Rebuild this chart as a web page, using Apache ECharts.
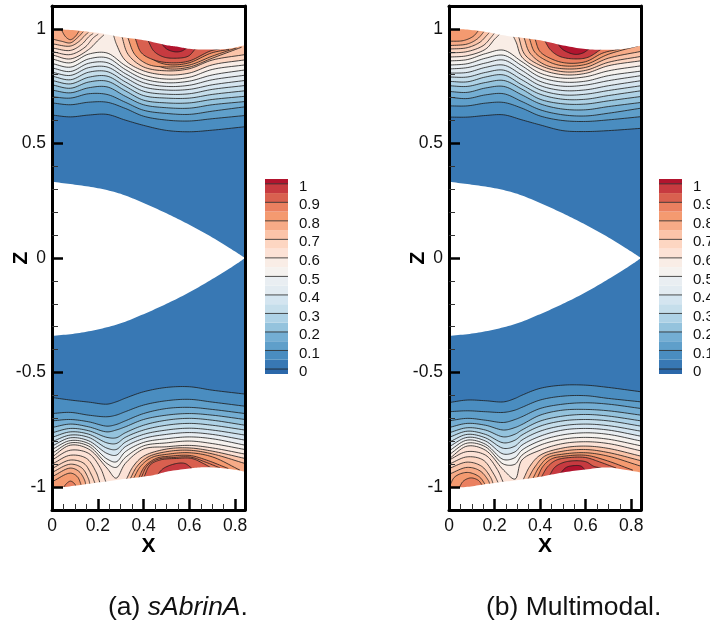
<!DOCTYPE html>
<html><head><meta charset="utf-8">
<style>html,body{margin:0;padding:0;background:#fff}#c{width:710px;height:628px}</style>
<script src="https://cdn.jsdelivr.net/npm/echarts@6/dist/echarts.min.js"></script>
</head><body><div id="c"></div>
<script>
// tick values
const xTicks=[0,.2,.4,.6,.8];
const xMinor=[.05,.1,.15,.25,.3,.35,.45,.5,.55,.65,.7,.75];
const zTicks=[-1,-.5,0,.5,1];
const zMinor=[-.9,-.8,-.7,-.6,-.4,-.3,-.2,-.1,.1,.2,.3,.4,.6,.7,.8,.9];
const barTicks=[0,.1,.2,.3,.4,.5,.6,.7,.8,.9,1];
const XMAX=.843,ZMAX=1.1;
// colour of the band starting at level index*0.05
const bandColors=['#3878b4','#4a8dc0','#5f9fca','#74aed3','#94c3dd','#aed2e6','#c5deeb','#d4e5f0','#e2ebf1','#e9eef2','#f5f2ef','#f9ede6','#fce2d6','#fdd6c2','#fbc4a9','#f7ab87','#f49a70','#ea8060','#d9604f','#c73a40','#b2142e'];
const belowZero='#2b68aa';
// level carried by each of the long contour lines, lowest first
const topLevels=[.05,.1,.15,.2,.25,.3,.35,.4,.45,.5,.55];
const botLevels=[.05,.1,.15,.2,.25,.3,.35,.45,.5,.55,.6];

// (a) sAbrinA — top half
const aTopX=[0,.08,.16,.24,.32,.4,.5,.6,.7,.843];
const aTopLow=[
[.624,.616,.624,.627,.602,.579,.557,.551,.558,.573],
[.677,.669,.680,.680,.653,.619,.602,.598,.608,.622],
[.704,.698,.717,.714,.680,.645,.631,.627,.641,.660],
[.733,.721,.743,.747,.706,.669,.656,.654,.669,.683],
[.756,.741,.768,.772,.730,.689,.677,.677,.692,.706],
[.775,.760,.789,.794,.750,.709,.698,.698,.714,.730],
[.794,.778,.811,.814,.769,.728,.715,.717,.736,.753],
[.811,.797,.831,.834,.788,.747,.733,.736,.756,.775],
[.830,.814,.850,.853,.805,.765,.749,.754,.778,.798],
[.849,.833,.869,.874,.823,.782,.765,.772,.799,.821],
[.869,.852,.890,.895,.840,.799,.781,.789,.823,.843]];
const aTopArcs=[
[.65,[[.268,.975],[.282,.932],[.320,.863],[.400,.817],[.500,.799],[.599,.807],[.700,.843],[.843,.865]]],
[.7,[[.304,.971],[.333,.888],[.400,.834],[.500,.817],[.599,.826],[.700,.864],[.843,.888]]],
[.75,[[.345,.964],[.372,.891],[.435,.852],[.508,.826],[.599,.833],[.700,.872],[.828,.920]]],
[.8,[[.329,.968],[.362,.888],[.420,.845],[.500,.834],[.599,.842],[.700,.881],[.806,.917]]],
[.85,[[.384,.959],[.410,.895],[.457,.858],[.518,.843],[.599,.852],[.697,.895],[.774,.911]]],
[.9,[[.362,.962],[.391,.895],[.450,.863],[.522,.852],[.599,.860],[.690,.903],[.733,.913]]],
[.95,[[.420,.948],[.445,.903],[.486,.878],[.537,.872],[.595,.881],[.627,.914]]],
[1,[[.474,.942],[.500,.913],[.537,.900],[.566,.903],[.588,.916]]],
[.6,[[0,.887],[.08,.869],[.16,.910],[.202,.951],[.227,.974]]],
[.64,[[0,.901],[.08,.888],[.144,.920],[.18,.961],[.202,.977]]],
[.68,[[0,.917],[.08,.906],[.129,.932],[.163,.968],[.18,.980]]],
[.72,[[0,.935],[.08,.925],[.119,.946],[.144,.972],[.159,.984]]],
[.76,[[0,.956],[.042,.946],[.08,.939],[.111,.961],[.137,.988]]],
[.82,[[.04,.998],[.06,.965],[.08,.953],[.1,.965],[.118,.99]]]];
const aTopSurface=[[0,1],[.1,.994],[.2,.983],[.3,.965],[.4,.951],[.5,.929],[.55,.922],[.6,.913],[.7,.910],[.77,.913],[.843,.929]];

// (a) sAbrinA — bottom half
const aBotX=[0,.08,.16,.24,.28,.32,.4,.5,.6,.7,.843];
const aBotLow=[
[-.609,-.620,-.629,-.638,-.628,-.612,-.584,-.565,-.562,-.577,-.594],
[-.679,-.674,-.686,-.693,-.686,-.671,-.642,-.623,-.617,-.629,-.647],
[-.711,-.705,-.715,-.734,-.727,-.711,-.679,-.657,-.652,-.661,-.679],
[-.740,-.725,-.737,-.759,-.751,-.737,-.705,-.686,-.679,-.686,-.705],
[-.763,-.744,-.754,-.783,-.785,-.763,-.730,-.708,-.700,-.708,-.730],
[-.783,-.759,-.769,-.807,-.810,-.783,-.751,-.730,-.722,-.730,-.751],
[-.802,-.773,-.783,-.830,-.836,-.804,-.770,-.751,-.743,-.751,-.773],
[-.821,-.785,-.798,-.853,-.861,-.824,-.788,-.770,-.762,-.770,-.795],
[-.836,-.797,-.810,-.877,-.890,-.846,-.805,-.789,-.781,-.789,-.817],
[-.853,-.807,-.821,-.897,-.914,-.871,-.820,-.807,-.799,-.810,-.836],
[-.869,-.817,-.834,-.917,-.961,-.897,-.834,-.824,-.818,-.829,-.856]];
const aBotArcs=[
[.7,[[.323,-.970],[.355,-.909],[.400,-.865],[.5,-.834],[.599,-.829],[.7,-.843],[.843,-.875]]],
[.75,[[.340,-.967],[.372,-.909],[.42,-.868],[.503,-.845],[.599,-.839],[.7,-.855],[.843,-.897]]],
[.8,[[.355,-.964],[.387,-.909],[.435,-.871],[.508,-.856],[.599,-.850],[.7,-.868],[.821,-.926]]],
[.85,[[.377,-.963],[.406,-.909],[.457,-.874],[.515,-.865],[.602,-.862],[.675,-.882],[.770,-.919]]],
[.87,[[.390,-.958],[.416,-.907],[.464,-.878],[.530,-.871],[.605,-.869],[.668,-.890],[.733,-.916]]],
[.9,[[.402,-.955],[.428,-.904],[.471,-.882],[.544,-.875],[.610,-.875],[.661,-.897],[.697,-.917]]],
[.95,[[.457,-.951],[.486,-.919],[.544,-.897],[.581,-.897],[.610,-.917]]],
[.62,[[0,-.882],[.08,-.839],[.16,-.853],[.21,-.914],[.236,-.979]]],
[.65,[[0,-.900],[.08,-.861],[.151,-.875],[.192,-.933],[.21,-.983]]],
[.68,[[0,-.919],[.08,-.882],[.14,-.897],[.173,-.948],[.188,-.984]]],
[.72,[[0,-.936],[.08,-.900],[.13,-.916],[.159,-.963],[.166,-.989]]],
[.76,[[0,-.955],[.08,-.917],[.119,-.933],[.144,-.974],[.147,-.992]]],
[.8,[[0,-.977],[.08,-.939],[.111,-.955],[.125,-.984],[.129,-.996]]],
[.85,[[.047,-1.006],[.064,-.984],[.081,-.974],[.1,-.987],[.105,-1.002]]]];
const aBotSurface=[[0,-1.003],[.049,-1],[.151,-.987],[.297,-.967],[.442,-.948],[.5,-.933],[.6,-.919],[.646,-.914],[.7,-.914],[.79,-.923],[.843,-.933]];

// (b) Multimodal — top half
const bTopX=[0,.08,.16,.24,.32,.4,.5,.6,.7,.843];
const bTopLow=[
[.615,.615,.622,.625,.603,.581,.556,.552,.556,.566],
[.664,.664,.676,.679,.654,.620,.600,.596,.603,.617],
[.702,.696,.712,.717,.683,.647,.625,.620,.632,.654],
[.727,.723,.742,.749,.712,.673,.650,.647,.661,.679],
[.752,.749,.766,.775,.737,.693,.673,.672,.686,.705],
[.771,.769,.790,.799,.756,.715,.693,.693,.709,.730],
[.790,.790,.810,.820,.778,.734,.712,.715,.731,.752],
[.807,.810,.832,.842,.799,.753,.731,.734,.752,.774],
[.825,.831,.851,.864,.819,.771,.750,.755,.774,.796],
[.842,.848,.872,.885,.839,.790,.768,.772,.796,.816],
[.860,.866,.892,.907,.857,.807,.785,.791,.817,.839]];
const bTopArcs=[
[.65,[[.279,.975],[.296,.939],[.320,.877],[.4,.825],[.501,.800],[.6,.806],[.699,.839],[.843,.861]]],
[.7,[[.305,.968],[.333,.888],[.4,.841],[.501,.813],[.6,.819],[.699,.854],[.843,.880]]],
[.75,[[.329,.963],[.355,.895],[.42,.844],[.501,.826],[.6,.832],[.699,.872],[.843,.902]]],
[.8,[[.352,.961],[.377,.898],[.435,.858],[.501,.839],[.6,.845],[.699,.889],[.829,.926]]],
[.87,[[.377,.958],[.399,.902],[.45,.869],[.515,.851],[.6,.857],[.676,.895],[.749,.912]]],
[.95,[[.42,.949],[.445,.909],[.486,.880],[.552,.869],[.61,.876],[.669,.912]]],
[1,[[.474,.939],[.501,.909],[.552,.889],[.588,.895],[.618,.915]]],
[.6,[[0,.877],[.08,.883],[.161,.912],[.201,.956],[.223,.977]]],
[.65,[[0,.895],[.08,.901],[.15,.927],[.183,.961],[.2,.982]]],
[.7,[[0,.912],[.08,.918],[.136,.942],[.165,.971],[.177,.984]]],
[.75,[[0,.927],[.08,.934],[.124,.956],[.147,.980],[.153,.988]]],
[.8,[[0,.946],[.063,.949],[.107,.968],[.128,.991]]]];
const bTopSurface=[[0,1],[.08,.997],[.161,.987],[.239,.972],[.32,.961],[.4,.950],[.501,.928],[.6,.912],[.699,.909],[.764,.912],[.843,.927]];

// (b) Multimodal — bottom half
const bBotX=[0,.08,.16,.24,.29,.32,.4,.5,.6,.7,.843];
const bBotLow=[
[-.631,-.620,-.623,-.628,-.613,-.599,-.569,-.555,-.555,-.565,-.584],
[-.671,-.667,-.671,-.674,-.664,-.652,-.620,-.603,-.601,-.613,-.628],
[-.711,-.700,-.708,-.718,-.705,-.693,-.657,-.638,-.632,-.638,-.657],
[-.740,-.722,-.730,-.751,-.740,-.727,-.686,-.664,-.661,-.667,-.686],
[-.763,-.741,-.751,-.781,-.769,-.751,-.712,-.690,-.683,-.690,-.711],
[-.783,-.756,-.770,-.807,-.795,-.773,-.734,-.711,-.705,-.711,-.734],
[-.804,-.770,-.785,-.831,-.821,-.795,-.756,-.732,-.725,-.732,-.756],
[-.824,-.783,-.799,-.856,-.846,-.817,-.778,-.751,-.744,-.751,-.778],
[-.842,-.795,-.813,-.880,-.871,-.839,-.798,-.772,-.763,-.770,-.799],
[-.859,-.808,-.824,-.900,-.900,-.861,-.817,-.791,-.783,-.791,-.820],
[-.877,-.821,-.839,-.926,-.965,-.882,-.839,-.810,-.802,-.810,-.842]];
const bBotArcs=[
[.7,[[.326,-.967],[.355,-.909],[.4,-.861],[.501,-.829],[.6,-.821],[.699,-.831],[.843,-.865]]],
[.75,[[.347,-.964],[.377,-.912],[.42,-.865],[.501,-.843],[.6,-.836],[.699,-.849],[.843,-.885]]],
[.8,[[.369,-.961],[.396,-.912],[.435,-.871],[.501,-.856],[.6,-.850],[.699,-.865],[.843,-.909]]],
[.85,[[.388,-.958],[.413,-.909],[.45,-.877],[.508,-.865],[.6,-.861],[.685,-.882],[.807,-.926]]],
[.9,[[.406,-.955],[.435,-.909],[.472,-.882],[.53,-.871],[.6,-.871],[.661,-.890],[.734,-.917]]],
[.95,[[.442,-.948],[.464,-.914],[.501,-.893],[.552,-.885],[.603,-.890],[.635,-.909],[.669,-.917]]],
[1,[[.489,-.939],[.515,-.914],[.552,-.906],[.581,-.909],[.599,-.928]]],
[.62,[[0,-.882],[.08,-.845],[.161,-.861],[.212,-.923],[.238,-.979]]],
[.65,[[0,-.900],[.08,-.868],[.15,-.882],[.197,-.944],[.216,-.981]]],
[.7,[[0,-.919],[.08,-.891],[.143,-.909],[.183,-.958],[.194,-.986]]],
[.75,[[0,-.944],[.08,-.914],[.136,-.929],[.172,-.970],[.18,-.989]]],
[.8,[[.004,-.992],[.026,-.955],[.08,-.936],[.133,-.955],[.161,-.992]]],
[.85,[[.045,-1.002],[.063,-.974],[.095,-.960],[.128,-.970],[.147,-.993]]]];
const bBotSurface=[[0,-1.002],[.08,-.999],[.161,-.987],[.239,-.977],[.32,-.967],[.4,-.955],[.501,-.936],[.6,-.923],[.699,-.914],[.764,-.923],[.843,-.936]];

// the central hole
const holeUpper=[[0,.333],[.1,.32],[.2,.305],[.3,.28],[.4,.24],[.5,.195],[.6,.145],[.7,.09],[.8,.028],[.843,0]];
const holeLower=[[0,-.34],[.1,-.33],[.2,-.312],[.3,-.285],[.4,-.245],[.5,-.2],[.6,-.15],[.7,-.092],[.8,-.03],[.843,0]];

function colorOf(l){return bandColors[Math.min(20,Math.floor(l/.05+1e-6))];}
function spline(p){
  if(p.length<3)return p;
  const o=[],sub=(a,b)=>Math.pow(Math.hypot(a[0]-b[0],a[1]-b[1])||1e-3,.5);
  const mix=(a,b,ta,tb,t)=>[0,1].map(j=>(tb-t)/(tb-ta)*a[j]+(t-ta)/(tb-ta)*b[j]);
  for(let i=0;i<p.length-1;i++){
    const b=p[i],c=p[i+1];
    const a=i>0?p[i-1]:[2*b[0]-c[0],2*b[1]-c[1]];
    const d=i<p.length-2?p[i+2]:[2*c[0]-b[0],2*c[1]-b[1]];
    const t0=0,t1=t0+sub(a,b),t2=t1+sub(b,c),t3=t2+sub(c,d);
    for(let s=0;s<10;s++){
      const t=t1+(t2-t1)*s/10;
      const A1=mix(a,b,t0,t1,t),A2=mix(b,c,t1,t2,t),A3=mix(c,d,t2,t3,t);
      const B1=mix(A1,A2,t0,t2,t),B2=mix(A2,A3,t1,t3,t);
      o.push(mix(B1,B2,t1,t2,t));
    }
  }
  o.push(p[p.length-1]);
  return o;
}
function halfPieces(xs,low,levels,arcs,side){
  const r=low.map((row,k)=>({level:levels[k],pts:xs.map((x,i)=>[x,row[i]]),side}));
  arcs.forEach(a=>r.push({level:a[0],pts:a[1],side}));
  return r;
}
function contourSeries(pieces,ax){
  const base={level:0,pts:[[0,-ZMAX],[XMAX,-ZMAX]],side:1,noLine:true};
  const all=[base].concat(pieces).sort((a,b)=>a.level-b.level);
  return {type:'custom',coordinateSystem:'cartesian2d',xAxisIndex:ax,yAxisIndex:ax,silent:true,animation:false,clip:true,z:2,
    progressive:0,data:all.map((_,i)=>[i]),
    renderItem(params,api){
      const i=api.value(0),p=all[i];
      const px=spline(p.pts.map(q=>api.coord(q)));
      const first=p.pts[0],last=p.pts[p.pts.length-1],lim=p.side*ZMAX;
      const poly=px.concat([api.coord([last[0],lim]),api.coord([first[0],lim])]);
      const ch=[{type:'polygon',z2:i*2,shape:{points:poly},style:{fill:colorOf(p.level),stroke:null}}];
      if(!p.noLine)ch.push({type:'polyline',z2:i*2+1,shape:{points:px},style:{fill:null,stroke:'#1c1c1c',lineWidth:.8}});
      return {type:'group',children:ch};
    }};
}
function maskSeries(top,bot,ax){
  const polys=[
    top.concat([[XMAX,ZMAX],[0,ZMAX]]),
    bot.concat([[XMAX,-ZMAX],[0,-ZMAX]]),
    holeUpper.concat(holeLower.slice(0,-1).reverse())];
  return {type:'custom',coordinateSystem:'cartesian2d',xAxisIndex:ax,yAxisIndex:ax,silent:true,animation:false,clip:true,z:5,
    data:polys.map((_,i)=>[i]),
    renderItem(params,api){
      const q=polys[api.value(0)];
      const n=api.value(0)==2?q:null;
      const pts=n?spline(holeUpper.map(c=>api.coord(c))).concat(spline(holeLower.map(c=>api.coord(c))).reverse()):
        spline(q.slice(0,-2).map(c=>api.coord(c))).concat(q.slice(-2).map(c=>api.coord(c)));
      return {type:'polygon',shape:{points:pts},style:{fill:'#fff',stroke:null}};
    }};
}
function barSeries(ax){
  const bands=bandColors.map((c,i)=>({lo:i*.05,hi:i==20?1.026:(i+1)*.05,c}));
  bands.unshift({lo:-.027,hi:0,c:belowZero});
  const lines=barTicks;
  return {type:'custom',coordinateSystem:'cartesian2d',xAxisIndex:ax,yAxisIndex:ax,silent:true,animation:false,z:2,
    data:bands.map((_,i)=>[i]).concat(lines.map((_,i)=>[i+100])),
    renderItem(params,api){
      const v=api.value(0);
      if(v>=100){
        const a=api.coord([0,lines[v-100]]),b=api.coord([1,lines[v-100]]);
        return {type:'line',z2:5,shape:{x1:a[0],y1:a[1],x2:b[0],y2:b[1]},style:{stroke:'#222',lineWidth:.8}};
      }
      const k=bands[v],a=api.coord([0,k.hi]),b=api.coord([1,k.lo]);
      return {type:'rect',shape:{x:a[0],y:a[1],width:b[0]-a[0],height:b[1]-a[1]},style:{fill:k.c,stroke:null}};
    }};
}
const FONT='"Liberation Sans",Arial,sans-serif',INK='#111';
const panels=[{l:52,w:193},{l:449,w:192}];
const bars=[{l:265},{l:659}];
const grids=[],xAxes=[],yAxes=[];
const noLine={show:false,onZero:false};
panels.forEach((p,n)=>{
  grids.push({left:p.l,top:6,width:p.w,height:504,outerBoundsMode:'none'});
  const line={show:true,onZero:false,lineStyle:{color:'#000',width:3}};
  xAxes.push(
   {type:'value',gridIndex:n,min:0,max:XMAX,position:'bottom',z:10,axisLine:line,splitLine:{show:false},
    axisTick:{show:true,inside:true,length:11,customValues:xTicks,lineStyle:{color:'#000',width:2.5}},
    axisLabel:{show:true,customValues:xTicks,margin:7,fontSize:17.5,fontFamily:FONT,color:INK,hideOverlap:false,formatter:v=>String(+v.toFixed(1))},
    name:'X',nameLocation:'middle',nameMoveOverlap:false,nameGap:26,nameTextStyle:{fontSize:21,fontWeight:'bold',fontFamily:FONT,color:'#000'}},
   {type:'value',gridIndex:n,min:0,max:XMAX,position:'bottom',z:10,axisLine:noLine,splitLine:{show:false},axisLabel:{show:false},
    axisTick:{show:true,inside:true,length:6,customValues:xMinor,lineStyle:{color:'#333',width:1}}},
   {type:'value',gridIndex:n,min:0,max:XMAX,position:'top',z:10,axisLine:line,axisTick:{show:false},axisLabel:{show:false},splitLine:{show:false}});
  yAxes.push(
   {type:'value',gridIndex:n,min:-ZMAX,max:ZMAX,position:'left',z:10,axisLine:line,splitLine:{show:false},
    axisTick:{show:true,inside:true,length:11,customValues:zTicks,lineStyle:{color:'#000',width:2.5}},
    axisLabel:{show:true,customValues:zTicks,margin:6,fontSize:17.5,fontFamily:FONT,color:INK,hideOverlap:false,formatter:v=>String(+v.toFixed(1))},
    name:'Z',nameLocation:'middle',nameMoveOverlap:false,nameGap:20,nameTextStyle:{fontSize:21,fontWeight:'bold',fontFamily:FONT,color:'#000'}},
   {type:'value',gridIndex:n,min:-ZMAX,max:ZMAX,position:'left',z:10,axisLine:noLine,splitLine:{show:false},axisLabel:{show:false},
    axisTick:{show:true,inside:true,length:6,customValues:zMinor,lineStyle:{color:'#333',width:1}}},
   {type:'value',gridIndex:n,min:-ZMAX,max:ZMAX,position:'right',z:10,axisLine:line,axisTick:{show:false},axisLabel:{show:false},splitLine:{show:false}});
});
bars.forEach((b,n)=>{
  grids.push({left:b.l,top:179,width:23,height:195,outerBoundsMode:'none'});
  xAxes.push({type:'value',gridIndex:2+n,min:0,max:1,show:false});
  yAxes.push({type:'value',gridIndex:2+n,min:-.027,max:1.026,position:'right',axisLine:noLine,axisTick:{show:false},axisLabel:{show:false},splitLine:{show:false}});
});
// colour-bar labels: a twin axis set a little lower, as in the reference
bars.forEach((b,n)=>{
  yAxes.push({type:'value',gridIndex:2+n,min:-.011,max:1.042,position:'right',axisLine:noLine,axisTick:{show:false},splitLine:{show:false},
    axisLabel:{show:true,customValues:barTicks,margin:11,fontSize:15,fontFamily:FONT,color:INK,hideOverlap:false,formatter:v=>String(+v.toFixed(1))}});
});
const series=[
  contourSeries(halfPieces(aTopX,aTopLow,topLevels,aTopArcs,1).concat(halfPieces(aBotX,aBotLow,botLevels,aBotArcs,-1)),0),
  maskSeries(aTopSurface,aBotSurface,0),
  contourSeries(halfPieces(bTopX,bTopLow,topLevels,bTopArcs,1).concat(halfPieces(bBotX,bBotLow,botLevels,bBotArcs,-1)),3),
  maskSeries(bTopSurface,bBotSurface,3),
  barSeries(6),barSeries(7)
];
const chart=echarts.init(document.getElementById('c'),null,{renderer:'canvas'});
chart.setOption({animation:false,backgroundColor:'#fff',grid:grids,xAxis:xAxes,yAxis:yAxes,series,
  graphic:[
   {type:'text',left:108,top:594,style:{text:'(a) {i|sAbrinA}.',font:'26.5px '+FONT,fill:'#111',rich:{i:{fontStyle:'italic',fontSize:26.5,fontFamily:'Liberation Sans',fill:'#111'}}}},
   {type:'text',left:486,top:594,style:{text:'(b) Multimodal.',font:'26.5px '+FONT,fill:'#111'}}
  ]});
</script></body></html>
